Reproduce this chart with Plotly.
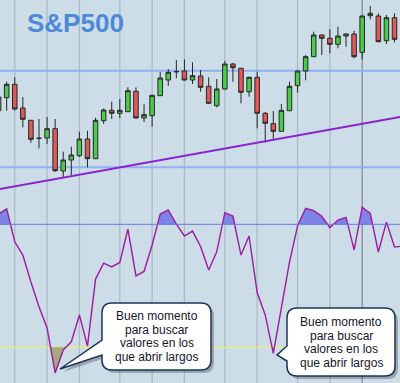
import plotly.graph_objects as go
from plotly.subplots import make_subplots

W, H = 400, 383

# ---------------- data ----------------
days = list(range(1, 51))
opens = [1289.3, 1302.3, 1315.7, 1292.0, 1279.7, 1261.7, 1262.0, 1271.3, 1229.0, 1240.0,
         1244.3, 1261.0, 1241.3, 1279.3, 1289.7, 1286.7, 1288.3, 1308.7, 1282.0, 1284.3,
         1304.3, 1320.0, 1328.3, 1329.0, 1320.0, 1324.0, 1313.7, 1294.3, 1311.0, 1336.0,
         1331.7, 1308.3, 1322.7, 1286.7, 1276.3, 1268.7, 1289.3, 1314.3, 1329.0, 1343.3,
         1365.0, 1361.7, 1355.7, 1364.0, 1366.0, 1347.7, 1384.3, 1384.0, 1359.3, 1382.3]
highs = [1308.0, 1318.3, 1322.7, 1303.0, 1279.7, 1281.0, 1283.0, 1281.0, 1248.3, 1253.3,
         1268.3, 1269.3, 1282.3, 1291.5, 1298.3, 1301.0, 1312.7, 1312.7, 1295.7, 1305.0,
         1328.0, 1331.0, 1340.0, 1340.7, 1337.7, 1330.0, 1322.7, 1321.0, 1339.0, 1337.0,
         1332.0, 1323.3, 1328.3, 1288.0, 1289.0, 1296.0, 1318.3, 1329.5, 1345.0, 1368.3,
         1366.0, 1370.7, 1373.3, 1366.7, 1369.3, 1384.5, 1394.0, 1386.7, 1385.0, 1386.7]
lows = [1287.0, 1289.3, 1289.3, 1272.7, 1257.3, 1251.7, 1256.0, 1228.0, 1223.0, 1225.0,
        1243.0, 1232.7, 1241.0, 1276.0, 1281.0, 1281.7, 1288.0, 1281.5, 1278.0, 1273.3,
        1304.0, 1314.3, 1321.7, 1319.5, 1316.0, 1308.3, 1296.5, 1292.7, 1310.5, 1318.3,
        1296.7, 1303.3, 1271.7, 1257.3, 1260.0, 1268.5, 1289.0, 1307.3, 1319.7, 1343.0,
        1345.0, 1346.7, 1351.7, 1353.3, 1341.7, 1340.7, 1380.7, 1357.7, 1356.0, 1357.7]
closes = [1303.0, 1315.7, 1291.0, 1280.7, 1260.7, 1261.7, 1271.3, 1229.3, 1240.0, 1245.0,
          1261.0, 1241.3, 1279.7, 1290.0, 1286.7, 1289.7, 1309.3, 1282.0, 1285.3, 1304.7,
          1322.0, 1327.7, 1328.3, 1320.0, 1324.3, 1312.7, 1296.7, 1311.0, 1336.0, 1332.3,
          1307.7, 1322.7, 1286.7, 1276.7, 1268.7, 1289.7, 1313.7, 1329.0, 1343.3, 1365.0,
          1361.7, 1355.7, 1364.0, 1366.0, 1343.3, 1384.0, 1386.7, 1358.3, 1382.3, 1360.7]

osc_days = list(range(1, 52))
oscillator = [85.0, 87.5, 71.5, 65.0, 51.9, 39.8, 29.4, 7.5, 18.7, 22.7,
              35.8, 20.6, 53.3, 61.1, 59.2, 61.4, 77.6, 54.8, 57.0, 69.9,
              85.0, 87.0, 80.1, 74.3, 76.7, 69.2, 57.7, 66.6, 85.7, 84.0,
              65.0, 74.3, 46.7, 35.8, 17.1, 38.7, 61.6, 79.2, 87.8, 86.7,
              83.9, 78.4, 82.1, 83.4, 67.5, 88.3, 85.3, 66.5, 81.1, 68.9, 69.4]

resistance_levels = [1329.3, 1232.7]
trend_days = [1, 51]
trend_values = [1210.75, 1283.5]
overbought = 80
oversold = 20
week_starts = [3, 7, 11, 16, 20, 24, 29, 33, 38, 42, 46]
month_start = 46

title_text = "S&P500"
callout_lines = ["Buen momento", "para buscar", "valores en los", "que abrir largos"]

# ---------------- figure ----------------
BG = "#cddde7"
split = 1 - 195 / H

fig = make_subplots(rows=2, cols=1, shared_xaxes=True, vertical_spacing=0)

fig.add_trace(go.Candlestick(
    x=days, open=opens, high=highs, low=lows, close=closes,
    increasing=dict(line=dict(color="#262626", width=1), fillcolor="#4bcb4b"),
    decreasing=dict(line=dict(color="#262626", width=1), fillcolor="#dc5a5a"),
    whiskerwidth=0, showlegend=False, hoverinfo="skip"), row=1, col=1)

fig.add_trace(go.Scatter(x=trend_days, y=trend_values, mode="lines",
                         line=dict(color="#8a22d0", width=2), showlegend=False,
                         hoverinfo="skip"), row=1, col=1)


def clipped(xs, vs, thr, above):
    ox, oy = [], []
    for i in range(len(xs)):
        if i > 0:
            a, b = vs[i - 1] - thr, vs[i] - thr
            if a * b < 0:
                t = a / (a - b)
                ox.append(xs[i - 1] + t * (xs[i] - xs[i - 1]))
                oy.append(thr)
        v = vs[i]
        ox.append(xs[i])
        oy.append(max(v, thr) if above else min(v, thr))
    return ox, oy


for thr, above, col in [(overbought, True, "#7e83e6"), (oversold, False, "#a4ab78")]:
    cx, cy = clipped(osc_days, oscillator, thr, above)
    fig.add_trace(go.Scatter(x=cx, y=[thr] * len(cx), mode="lines",
                             line=dict(width=0, color=col), showlegend=False,
                             hoverinfo="skip"), row=2, col=1)
    fig.add_trace(go.Scatter(x=cx, y=cy, mode="lines", fill="tonexty",
                             fillcolor=col, line=dict(width=0, color=col),
                             showlegend=False, hoverinfo="skip"), row=2, col=1)

fig.add_trace(go.Scatter(x=osc_days, y=oscillator, mode="lines",
                         line=dict(color="#9c1c9e", width=1.4), showlegend=False,
                         hoverinfo="skip"), row=2, col=1)

shapes = []
for d in week_starts:
    shapes.append(dict(type="line", xref="x", yref="paper", x0=d, x1=d, y0=0, y1=1,
                       line=dict(color="#7f8c95" if d == month_start else "#abbcc7", width=1.3),
                       layer="below"))
for lv in resistance_levels:
    shapes.append(dict(type="line", xref="paper", yref="y", x0=0, x1=1, y0=lv, y1=lv,
                       line=dict(color="#8fb0f2", width=2), layer="below"))
shapes.append(dict(type="line", xref="paper", yref="y2", x0=0, x1=1, y0=overbought,
                   y1=overbought, line=dict(color="#6c74e4", width=1), layer="above"))
shapes.append(dict(type="line", xref="paper", yref="y2", x0=0, x1=1, y0=oversold,
                   y1=oversold, line=dict(color="#f4f25c", width=1), layer="below"))


def P(x, y):
    return f"{x / W:.5f},{1 - y / H:.5f}"


def bubble(x0, y0, x1, y1, r, ya, yb, tip, dx=0, dy=0):
    x0, x1, y0, y1, ya, yb = x0 + dx, x1 + dx, y0 + dy, y1 + dy, ya + dy, yb + dy
    tx, ty = tip[0] + dx, tip[1] + dy
    return (f"M{P(x0 + r, y0)} L{P(x1 - r, y0)} Q{P(x1, y0)} {P(x1, y0 + r)} "
            f"L{P(x1, y1 - r)} Q{P(x1, y1)} {P(x1 - r, y1)} L{P(x0 + r, y1)} "
            f"Q{P(x0, y1)} {P(x0, y1 - r)} L{P(x0, yb)} L{P(tx, ty)} L{P(x0, ya)} "
            f"L{P(x0, y0 + r)} Q{P(x0, y0)} {P(x0 + r, y0)} Z")


bubbles = [
    dict(box=(102, 303, 211, 370), ya=340, yb=355, tip=(60, 369), cx=156.5, ty=316),
    dict(box=(287, 308, 395, 376), ya=346, yb=361, tip=(277, 355), cx=341, ty=322),
]
annotations = [dict(text=f"<b>{title_text}</b>", x=25 / W, y=1 - 23 / H, xref="paper",
                    yref="paper", xanchor="left", yanchor="middle", showarrow=False,
                    font=dict(family="Liberation Sans, Arial", size=26, color="#4d89d8"))]
for b in bubbles:
    x0, y0, x1, y1 = b["box"]
    shapes.append(dict(type="path", xref="paper", yref="paper",
                       path=bubble(x0, y0, x1, y1, 10, b["ya"], b["yb"], b["tip"], 3, 3),
                       fillcolor="rgba(50,60,70,0.35)", line=dict(width=0), layer="above"))
    shapes.append(dict(type="path", xref="paper", yref="paper",
                       path=bubble(x0, y0, x1, y1, 10, b["ya"], b["yb"], b["tip"]),
                       fillcolor="#ffffff", line=dict(color="#1d3559", width=1.5),
                       layer="above"))
    for k, line in enumerate(callout_lines):
        annotations.append(dict(text=line, x=b["cx"] / W, y=1 - (b["ty"] + 13.5 * k) / H,
                                xref="paper", yref="paper", xanchor="center",
                                yanchor="middle", showarrow=False,
                                font=dict(family="Liberation Sans, Arial", size=12,
                                          color="#15152a")))

fig.update_layout(
    width=W, height=H, margin=dict(l=0, r=0, t=0, b=0),
    paper_bgcolor=BG, plot_bgcolor=BG, showlegend=False,
    boxgap=0.2, shapes=shapes, annotations=annotations,
    xaxis=dict(range=[1.173, 50.68], visible=False, rangeslider=dict(visible=False),
               showgrid=False),
    xaxis2=dict(range=[1.173, 50.68], visible=False, showgrid=False),
    yaxis=dict(range=[1205, 1400], visible=False, domain=[split, 1], showgrid=False),
    yaxis2=dict(range=[2.6, 94.3], visible=False, domain=[0, split], showgrid=False),
)

fig.write_html("out.html", config={"displayModeBar": False},
               post_script="document.body.style.margin='0px';document.body.style.overflow='hidden';")
